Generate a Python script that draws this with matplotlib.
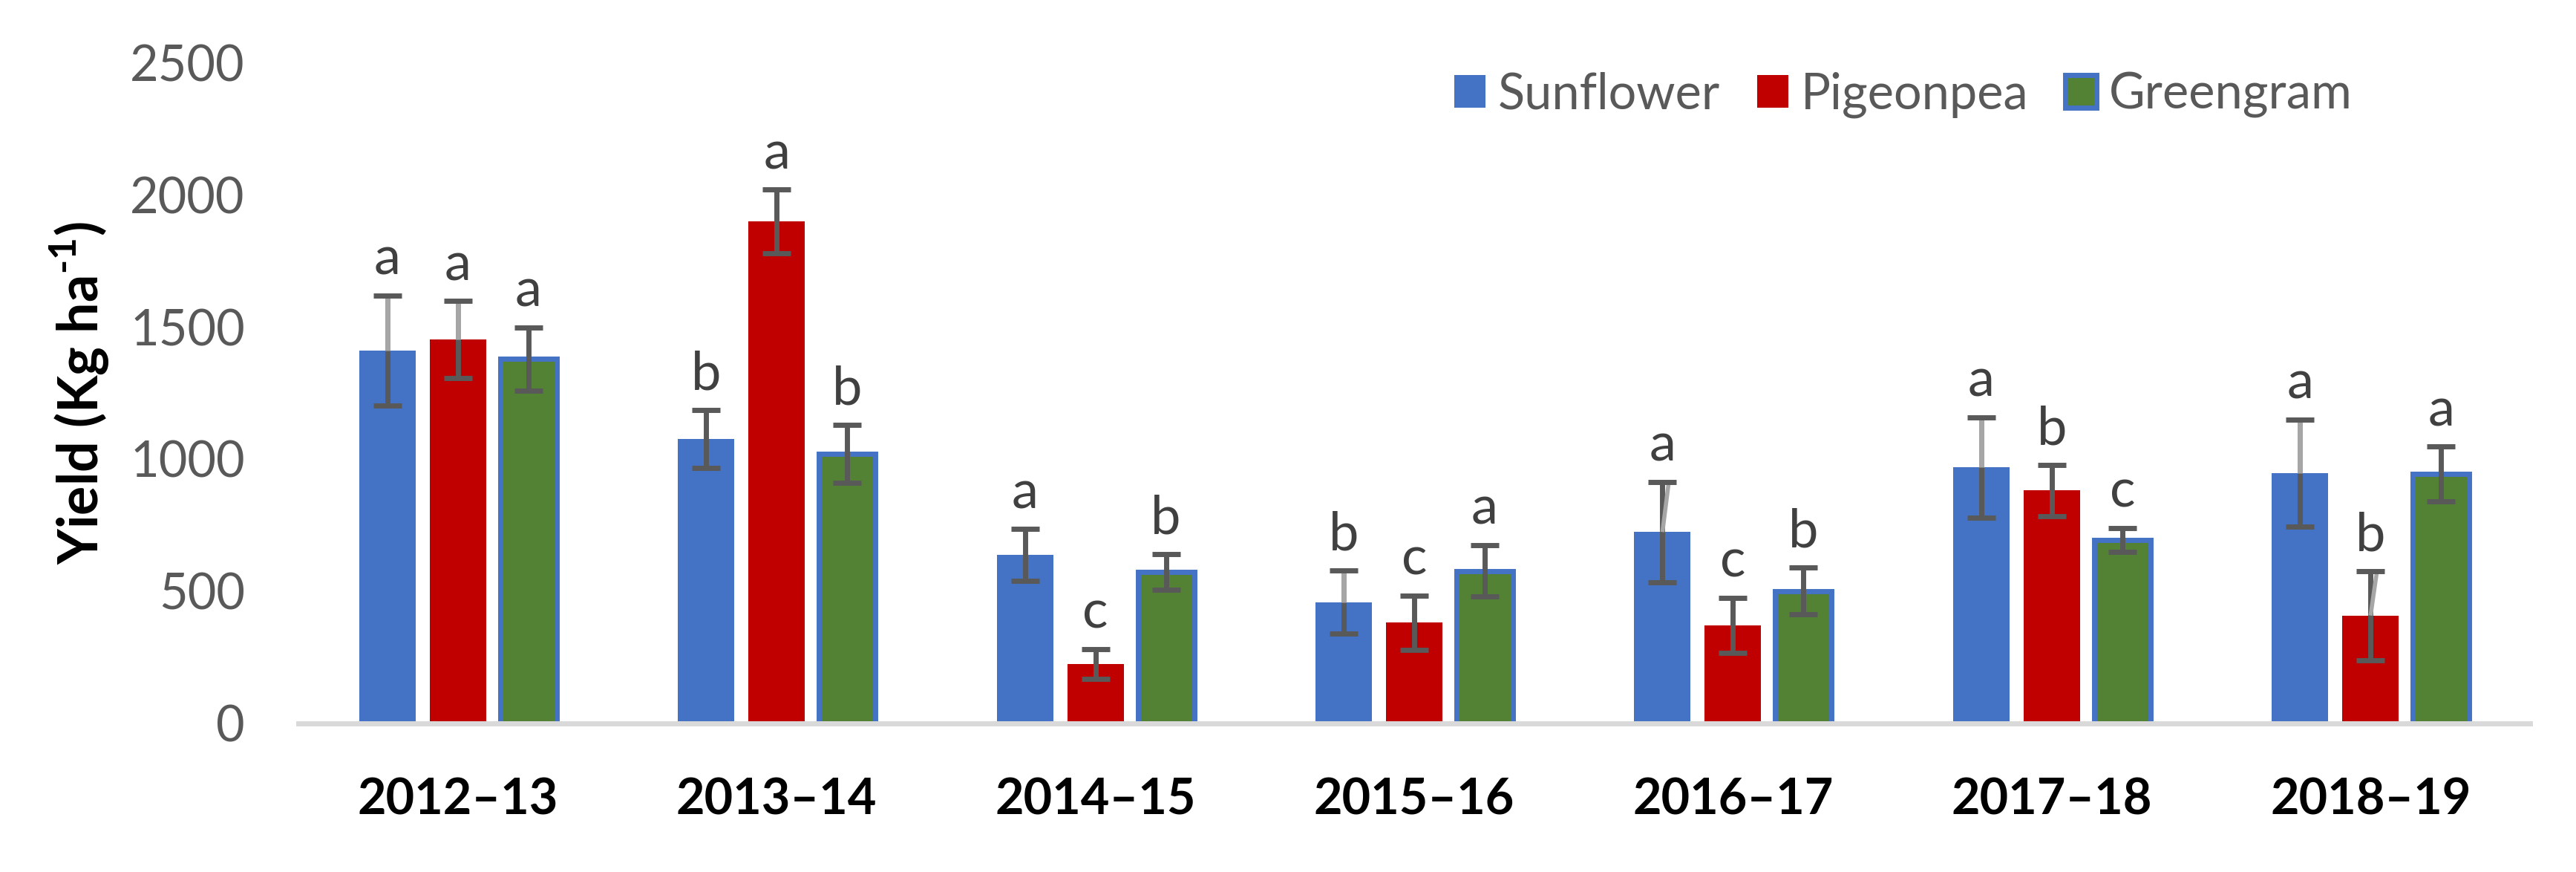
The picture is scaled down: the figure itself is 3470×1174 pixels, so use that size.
import matplotlib
matplotlib.use("Agg")
import matplotlib.pyplot as plt
import numpy as np

plt.rcParams['font.family'] = ['Lato', 'DejaVu Sans']
plt.rcParams['mathtext.fontset'] = 'custom'
plt.rcParams['mathtext.rm'] = 'Lato:bold'
plt.rcParams['mathtext.bf'] = 'Lato:bold'

seasons = ['2012–13', '2013–14', '2014–15', '2015–16', '2016–17', '2017–18', '2018–19']
crops = ['Sunflower', 'Pigeonpea', 'Greengram']

sunflower = [1410, 1076, 638, 459, 724, 968, 947]
pigeonpea = [1452, 1899, 225, 381, 371, 881, 408]
greengram = [1378, 1019, 573, 577, 501, 695, 943]

sunflower_se = [209, 110, 98, 120, 190, 190, 203]
pigeonpea_se = [145, 120, 57, 103, 105, 97, 168]
greengram_se = [120, 110, 68, 98, 88, 45, 104]

sunflower_letters = ['a', 'b', 'a', 'b', 'a', 'a', 'a']
pigeonpea_letters = ['a', 'a', 'c', 'c', 'c', 'b', 'b']
greengram_letters = ['a', 'b', 'b', 'a', 'b', 'c', 'a']

# (series, season) pairs where the upper whisker shows in light grey
light_upper = [(0, 0), (1, 0), (0, 3), (0, 5), (0, 6)]
slanted_upper = [(0, 4), (1, 6)]

means = [sunflower, pigeonpea, greengram]
errors = [sunflower_se, pigeonpea_se, greengram_se]
letters = [sunflower_letters, pigeonpea_letters, greengram_letters]
colors = ['#4472C4', '#C00000', '#548235']
edges = ['none', 'none', '#4472C4']

fig = plt.figure(figsize=(34.7, 11.74), dpi=100)
ax = fig.add_axes([0.11585, 0.1704, 0.86628, 0.7580])

x = np.arange(len(seasons))
step = 0.2213
width = 0.177

handles = []
for i in range(3):
    xs = x + (i - 1) * step
    b = ax.bar(xs, means[i], width, color=colors[i], edgecolor=edges[i],
               linewidth=5 if edges[i] != 'none' else 0, label=crops[i], zorder=2)
    handles.append(b)
    eb = ax.errorbar(xs, means[i], yerr=errors[i], fmt='none', ecolor='#595959',
                     elinewidth=5, capsize=13.7, capthick=5, zorder=3)
    for cap in eb[1]:
        cap.set_zorder(5)
    for j in range(len(seasons)):
        top = means[i][j] + errors[i][j]
        if (i, j) in light_upper:
            ax.plot([xs[j], xs[j]], [means[i][j], top], color='#A6A6A6', lw=5,
                    solid_capstyle='butt', zorder=4)
        if (i, j) in slanted_upper:
            ax.plot([xs[j], xs[j] + 0.02], [means[i][j], top], color='#A6A6A6', lw=4,
                    solid_capstyle='butt', zorder=4)
        ax.annotate(letters[i][j], (xs[j], top), xytext=(0, 20), textcoords='offset points',
                    ha='center', va='baseline', fontsize=52, color='#404040')

ax.set_xlim(-0.5, len(seasons) - 0.5)
ax.set_ylim(0, 2500)
ax.set_yticks([0, 500, 1000, 1500, 2000, 2500])
ax.set_xticks(x)
ax.set_xticklabels(seasons, fontsize=48, fontweight='bold', color='black')
ax.tick_params(axis='y', length=0, pad=52, labelsize=48, labelcolor='#595959')
ax.tick_params(axis='x', length=0, pad=52)

for s in ['top', 'right', 'left']:
    ax.spines[s].set_visible(False)
ax.spines['bottom'].set_color('#D9D9D9')
ax.spines['bottom'].set_linewidth(5)

ax.set_ylabel(r'Yield (Kg ha$^{\text{-1}}$)', fontsize=53, fontweight='bold', color='black')
ax.yaxis.set_label_coords(-0.0838, 0.5)

ax.legend(handles=handles, loc='center left', bbox_to_anchor=(0.5646, 0.891),
          bbox_transform=fig.transFigure, ncol=3, frameon=False, fontsize=48,
          labelcolor='#595959', borderpad=0, borderaxespad=0, handlelength=0.63,
          handleheight=0.63, handletextpad=0.25, columnspacing=0.75)

fig.savefig('out.png', dpi=100)
